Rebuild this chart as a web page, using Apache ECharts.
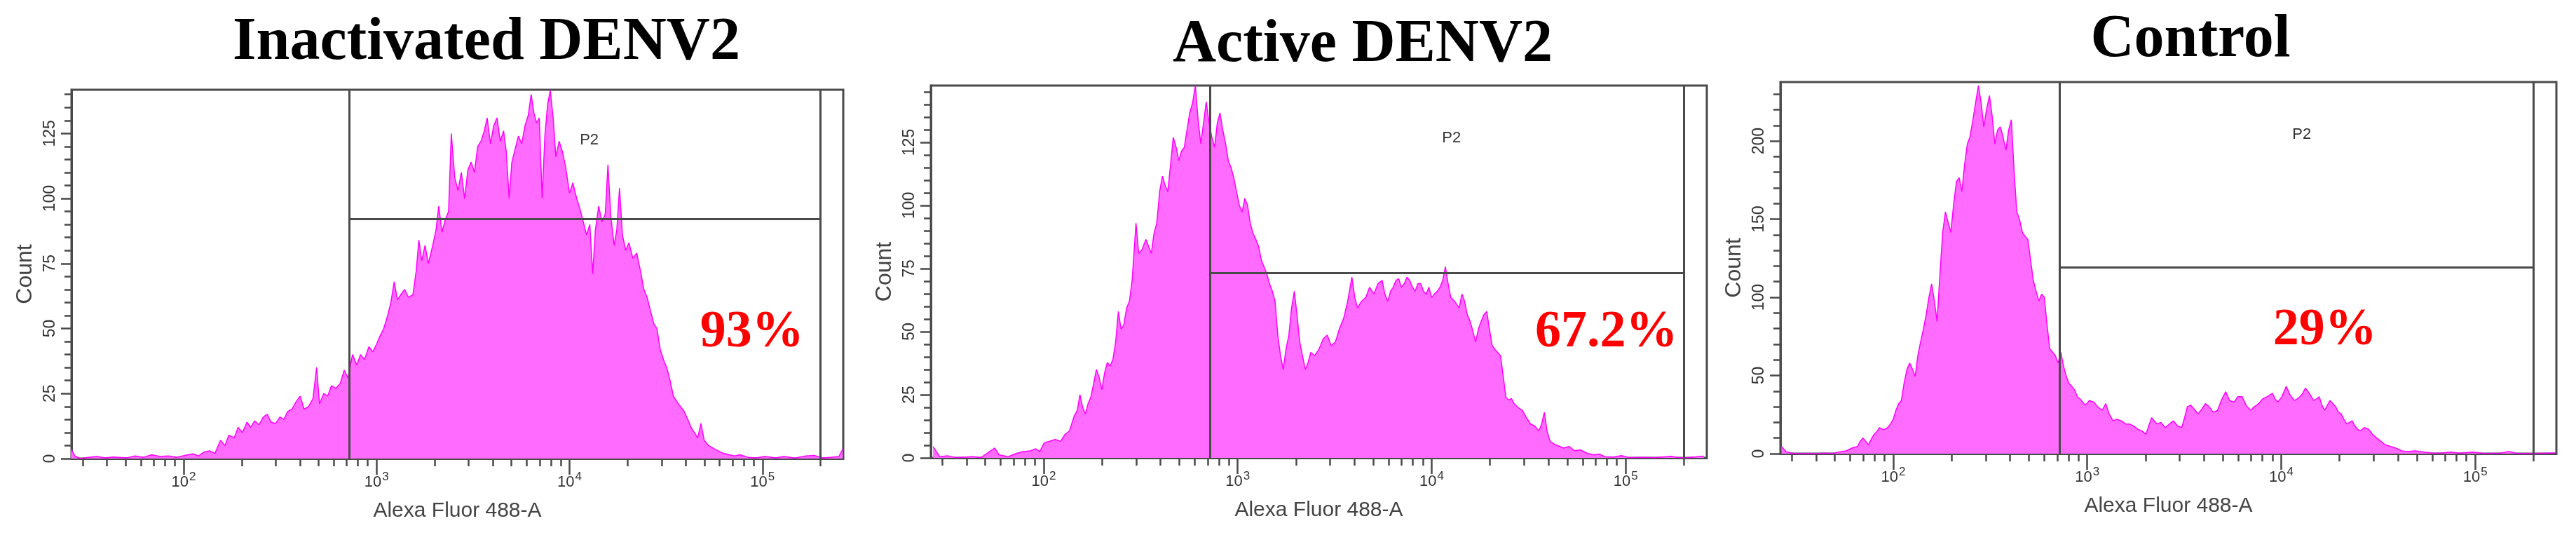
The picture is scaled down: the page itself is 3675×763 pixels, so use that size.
<!DOCTYPE html>
<html><head><meta charset="utf-8">
<script src="https://cdn.jsdelivr.net/npm/echarts@6/dist/echarts.min.js"></script>
<style>html,body{margin:0;padding:0;background:#fff}#c{width:3675px;height:763px}</style>
</head><body><div id="c"></div>
<script>
const titles = ['Inactivated DENV2', 'Active DENV2', 'Control'];
const percents = ['93%', '67.2%', '29%'];
const gateName = 'P2';
const xAxisName = 'Alexa Fluor 488-A';
const yAxisName = 'Count';

// Histogram outlines: x = log10(Alexa Fluor 488-A), y = count
const p1Log = [1.416,1.436,1.464,1.507,1.550,1.593,1.635,1.707,1.749,1.792,1.835,1.877,1.920,1.963,2.006,2.048,2.077,2.105,2.134,2.162,
2.191,2.214,2.234,2.262,2.282,2.305,2.328,2.348,2.368,2.390,2.413,2.433,2.453,2.476,2.499,2.519,2.538,2.561,2.584,2.604,
2.624,2.647,2.670,2.689,2.704,2.726,2.746,2.766,2.789,2.812,2.832,2.852,2.875,2.897,2.917,2.937,2.960,2.980,3.000,3.017,
3.037,3.057,3.074,3.091,3.108,3.125,3.145,3.165,3.188,3.205,3.219,3.234,3.251,3.268,3.288,3.308,3.322,3.339,3.356,3.373,
3.387,3.405,3.422,3.439,3.456,3.473,3.490,3.507,3.524,3.541,3.558,3.573,3.590,3.607,3.624,3.641,3.658,3.672,3.687,3.701,
3.718,3.735,3.752,3.769,3.786,3.801,3.815,3.829,3.843,3.858,3.872,3.886,3.900,3.915,3.929,3.946,3.963,3.980,4.000,4.017,
4.037,4.054,4.071,4.088,4.105,4.120,4.134,4.151,4.168,4.185,4.199,4.214,4.231,4.245,4.259,4.274,4.291,4.308,4.328,4.348,
4.368,4.385,4.402,4.419,4.436,4.453,4.470,4.487,4.504,4.521,4.538,4.556,4.575,4.595,4.613,4.630,4.647,4.664,4.681,4.698,
4.721,4.744,4.769,4.798,4.826,4.855,4.883,4.926,4.969,5.011,5.068,5.111,5.168,5.225,5.268,5.311,5.353,5.396,5.416];
const p1Count = [3.7,1,0,0.5,0.8,0.3,0.6,0.3,1,0.5,1.5,0.8,1,0.5,1.2,1.8,1,2.5,3,2,
7,5,9,8,12,10,14,12,14.5,13,16,17,14,13.5,16,15,18,19,22,24,
19,20,23,35,21,25,24,28,27,29,34,31,40,36,40,38,43,41,44,47,
50,55,60,68,61,63,65,62,63,72,84,76,82,75,81,88,97,87,92,95,
125,108,103,110,100,111,114,110,120,122,126,131,121,128,131,122,126,118,100,114,
119,124,121,128,132,140,133,129,131,100,124,136,141.6,131,116,122,118,112,102,106,
100,96,91,86,90,71,88,97,91,94,113,93,82,88,104,86,80,83,77,79,
72,65,62,57,52,50,42,38,35,30,24,22,20,18,15,12,10,8,13.5,7,
5,4,3,2,1.5,1,1.5,0.5,0.3,0.8,0.3,0.8,0.2,1,1.2,0.3,0.5,0.8,3.7];

const p2Log = [1.430,1.464,1.507,1.549,1.634,1.677,1.748,1.770,1.818,1.861,1.895,1.932,1.960,1.980,2.003,2.031,2.059,2.088,2.110,2.133,
2.158,2.173,2.187,2.201,2.215,2.229,2.243,2.258,2.272,2.286,2.300,2.314,2.328,2.343,2.357,2.371,2.385,2.399,2.413,2.428,
2.442,2.456,2.476,2.490,2.507,2.527,2.541,2.555,2.569,2.583,2.598,2.612,2.626,2.640,2.654,2.668,2.683,2.697,2.711,2.725,
2.739,2.753,2.768,2.782,2.796,2.810,2.824,2.838,2.853,2.867,2.881,2.895,2.909,2.923,2.938,2.952,2.966,2.980,2.994,3.009,
3.023,3.037,3.051,3.065,3.079,3.094,3.108,3.122,3.136,3.150,3.164,3.179,3.193,3.207,3.221,3.235,3.249,3.264,3.278,3.292,
3.306,3.320,3.334,3.349,3.363,3.377,3.397,3.419,3.442,3.462,3.482,3.504,3.524,3.547,3.567,3.589,3.604,3.618,3.638,3.660,
3.680,3.703,3.723,3.745,3.759,3.774,3.788,3.802,3.816,3.830,3.844,3.859,3.873,3.887,3.901,3.915,3.929,3.944,3.958,3.972,
3.986,4.000,4.014,4.029,4.043,4.057,4.071,4.085,4.099,4.119,4.142,4.156,4.170,4.184,4.199,4.213,4.227,4.241,4.255,4.269,
4.284,4.298,4.312,4.326,4.340,4.355,4.369,4.383,4.397,4.411,4.425,4.445,4.468,4.488,4.510,4.530,4.553,4.567,4.581,4.595,
4.610,4.624,4.638,4.661,4.680,4.709,4.737,4.765,4.802,4.836,4.865,4.893,4.935,4.978,5.020,5.091,5.148,5.233,5.276,5.318,5.403];
const p2Count = [4.5,0.5,0.8,0.1,0.5,0.1,3.9,1.2,0.5,1.8,2.5,2.8,3.6,2.5,6,6.6,7.3,6.6,9.3,10.7,
16.7,18.8,25,20,17.4,21.5,24,29.6,35,32,27,33.7,37.8,36.4,39,45.9,58,51,52.7,59.4,
62,70.3,93,81,82.5,86.5,83.8,81,89,93,105.5,111.6,108,105.5,116,127,123,117.7,121.6,123,
130,136.7,140.7,147.5,134,124.5,132.6,141,132.6,127,123,132.6,136.7,130,124.5,117.7,115,111,105.5,100,
97.4,102.8,100,93,89,86.5,83.8,78.4,75.7,73,69,66,62,48.6,40.5,35,43,48.6,59.4,66,
56.7,45.9,40.5,35,37.7,41.8,40.5,43,47.3,48.6,44.5,45.9,51,55.4,62,71.6,63.5,59.4,62,63.5,
67.6,64.9,69,70.3,64.9,62,66,67.6,70.3,71,67.6,69,71.6,70.3,67.6,66,69,69,66,64.9,
67.6,63.5,64.9,66,67.6,70.3,75.7,69,63.5,62,59.4,64.9,62,56.7,54,50,45.9,51,54,56.7,
58,51,44.5,43,41.8,40.5,32.3,24,22.9,23.5,21.5,20,18.8,16,13.4,12.7,10.7,13.4,18,10.7,
6.6,5.9,5.2,4.5,3.9,4.5,2.8,3.2,1.8,1.2,1.5,0.5,0.3,0.9,0.1,0.2,0.1,0.6,0.1,0.1,0.7];

const p3Log = [1.424,1.447,1.475,1.518,1.560,1.603,1.645,1.688,1.731,1.759,1.787,1.816,1.830,1.844,1.858,1.872,1.886,1.901,1.915,1.929,
1.943,1.957,1.971,1.986,2.000,2.014,2.028,2.042,2.056,2.071,2.085,2.099,2.113,2.127,2.141,2.156,2.170,2.184,2.198,2.212,
2.226,2.241,2.255,2.269,2.283,2.297,2.311,2.326,2.340,2.354,2.368,2.382,2.396,2.411,2.425,2.439,2.453,2.467,2.481,2.496,
2.510,2.524,2.538,2.552,2.566,2.581,2.595,2.609,2.623,2.637,2.651,2.666,2.680,2.694,2.708,2.722,2.736,2.751,2.765,2.779,
2.793,2.807,2.821,2.836,2.850,2.864,2.878,2.892,2.906,2.921,2.935,2.949,2.963,2.977,2.991,3.011,3.034,3.054,3.077,3.096,
3.113,3.133,3.153,3.176,3.198,3.218,3.238,3.261,3.283,3.303,3.317,3.332,3.346,3.360,3.380,3.402,3.425,3.445,3.465,3.487,
3.502,3.516,3.533,3.550,3.572,3.592,3.609,3.629,3.649,3.672,3.691,3.714,3.734,3.757,3.776,3.799,3.819,3.842,3.861,3.884,
3.904,3.927,3.941,3.955,3.969,3.983,4.003,4.026,4.046,4.068,4.082,4.097,4.111,4.125,4.145,4.167,4.182,4.196,4.210,4.224,
4.238,4.252,4.267,4.281,4.295,4.309,4.323,4.338,4.352,4.366,4.380,4.394,4.408,4.428,4.451,4.471,4.493,4.513,4.536,4.564,
4.593,4.621,4.649,4.692,4.734,4.777,4.819,4.876,4.918,4.989,5.046,5.131,5.173,5.216,5.301,5.414];
const p3Count = [4.6,1.4,0.3,0,0.1,0,0.3,0.1,1.4,1.8,3.6,4.6,8,10,8,5.7,9,12.3,14,16.7,
15.6,15.6,16.7,19,22,27.7,32,34,45,54,58,54,49.5,62.7,71.4,80,89,100,108.6,97.7,
84.5,115,141.5,154.6,148,141.5,159,174,176.5,167.7,185,198,202.7,213.6,224.6,235.5,224.6,209,220,229,
216,198,207,209,202.7,194,207,213.6,181,154.6,150,141.5,139,137,124,111,104,97.7,102,100,
82.4,67,65,62.7,58,65,56,49.5,45,43,40.8,36.4,35,33,31,34,33,30,27.7,32,
25.5,21,22,21,19,19,17.8,15.6,14.5,12.3,17.8,23,21,19,20,16.7,19,21,17.8,16.7,
23,30,31,28.7,25.5,28.7,32,30,26.5,27.7,34,39.7,34,33,36.4,36.4,31,27.7,30,32,
35,36.4,37.5,38.6,35,33,36.4,43,37.5,34,35,36.4,38.6,42,38.6,34,35,36.4,31,27.7,
31,34,32,30,26.5,25.5,22,19,20,21,17.8,15.6,14.5,16.7,15.6,12.3,10,8,5.7,4.6,
3.5,1.8,1.4,1.8,1,0.5,0.3,1,0.3,1,0.1,0.3,1.4,0.1,0.1,0.5];

const logs = [p1Log, p2Log, p3Log];
const counts = [p1Count, p2Count, p3Count];

const xMin = 26.2144, xMax = 262144;
const xMajorTicks = [100, 1000, 10000, 100000];
const xMinorTicks = [30,40,50,60,70,80,90,200,300,400,500,600,700,800,900,2000,3000,4000,5000,6000,7000,8000,9000,20000,30000,40000,50000,60000,70000,80000,90000,200000];
const yMaxes = [141.8, 147.5, 237.7];
const yMajorTicks = [[0,25,50,75,100,125],[0,25,50,75,100,125],[0,50,100,150,200]];
const yMinorTicks = [
  [0,5,10,15,20,25,30,35,40,45,50,55,60,65,70,75,80,85,90,95,100,105,110,115,120,125,130,135,140],
  [0,5,10,15,20,25,30,35,40,45,50,55,60,65,70,75,80,85,90,95,100,105,110,115,120,125,130,135,140,145],
  [0,10,20,30,40,50,60,70,80,90,100,110,120,130,140,150,160,170,180,190,200,210,220,230]
];
const gateLow = [720, 720, 720];
const gateHigh = 200000;
const gateCount = [92.2, 73.3, 119];
const gateLabelPos = [[12650,122.3],[12650,126.7],[12760,204]];
const percentPos = [[88100,48.2],[79600,49.4],[16800,78.5]];

const grids = [
  {left:102, top:128, width:1101, height:526},
  {left:1328, top:122, width:1107, height:531},
  {left:2540, top:117, width:1107, height:530}
];
const titlePos = [[694,62],[1944,65],[3125,58]];

const axisColor = '#4a4a4a';
const option = {
  animation:false,
  backgroundColor:'#ffffff',
  grid: grids.map(g => Object.assign({show:true, borderColor:axisColor, borderWidth:3, backgroundColor:'transparent'}, g)),
  xAxis: [], yAxis: [], series: [],
  graphic: titles.map((t,i) => ({
    type:'text', x:titlePos[i][0], y:titlePos[i][1],
    style:{text:t, font:'bold 86px "Liberation Serif"', fill:'#000', textAlign:'center', textVerticalAlign:'middle'}
  }))
};

for (let i = 0; i < 3; i++) {
  const tickStyle = {color:axisColor, width:2.5};
  option.xAxis.push({
    type:'log', logBase:10, gridIndex:i, min:xMin, max:xMax, position:'bottom',
    axisLine:{show:true, onZero:false, lineStyle:{color:axisColor, width:3}},
    axisTick:{show:true, customValues:xMinorTicks, length:11, lineStyle:tickStyle},
    axisLabel:{show:false}, splitLine:{show:false}
  });
  option.xAxis.push({
    type:'log', logBase:10, gridIndex:i, min:xMin, max:xMax, position:'bottom',
    axisLine:{show:false, onZero:false},
    axisTick:{show:true, customValues:xMajorTicks, length:23, lineStyle:tickStyle},
    axisLabel:{show:true, customValues:xMajorTicks, margin:18,
      formatter: v => '{b|10}{s|' + Math.round(Math.log10(v)) + '}',
      rich:{b:{fontSize:22, color:'#333', fontFamily:'Liberation Sans'}, s:{fontSize:17, color:'#333', fontFamily:'Liberation Sans', padding:[0,0,14,1]}}},
    splitLine:{show:false},
    name:xAxisName, nameLocation:'middle', nameGap:60,
    nameTextStyle:{fontSize:30, color:'#444', fontFamily:'Liberation Sans'}
  });
  option.yAxis.push({
    type:'value', gridIndex:i, min:0, max:yMaxes[i], position:'left',
    axisLine:{show:true, onZero:false, lineStyle:{color:axisColor, width:3}},
    axisTick:{show:true, customValues:yMinorTicks[i], length:10, lineStyle:tickStyle},
    axisLabel:{show:false}, splitLine:{show:false}
  });
  option.yAxis.push({
    type:'value', gridIndex:i, min:0, max:yMaxes[i], position:'left',
    axisLine:{show:false, onZero:false},
    axisTick:{show:true, customValues:yMajorTicks[i], length:15, lineStyle:tickStyle},
    axisLabel:{show:true, customValues:yMajorTicks[i], rotate:90, margin:19, fontSize:23, color:'#333', fontFamily:'Liberation Sans'},
    splitLine:{show:false},
    name:yAxisName, nameLocation:'middle', nameGap:50, nameRotate:90,
    nameTextStyle:{fontSize:32, color:'#444', fontFamily:'Liberation Sans'}
  });
  option.series.push({
    type:'line', xAxisIndex:2*i, yAxisIndex:2*i,
    data: logs[i].map((l,k) => [Math.pow(10,l), counts[i][k]]),
    symbol:'none', showSymbol:false,
    lineStyle:{color:'#ff00ff', width:1.5},
    areaStyle:{color:'#ff6bff', opacity:1},
    markLine:{silent:true, symbol:'none', label:{show:false},
      lineStyle:{color:axisColor, width:3, type:'solid'},
      data:[{xAxis:gateLow[i]},{xAxis:gateHigh},[{coord:[gateLow[i],gateCount[i]]},{coord:[gateHigh,gateCount[i]]}]]},
    markPoint:{symbol:'circle', symbolSize:0, silent:true,
      data:[
        {coord:gateLabelPos[i], label:{show:true, position:'inside', formatter:gateName, fontSize:22, color:'#333', fontFamily:'Liberation Sans'}},
        {coord:percentPos[i], label:{show:true, position:'inside', formatter:percents[i], fontSize:74, fontWeight:'bold', color:'#ff0000', fontFamily:'Liberation Serif'}}
      ]}
  });
}

const chart = echarts.init(document.getElementById('c'), null, {renderer:'canvas'});
chart.setOption(option);
</script>
</body></html>
